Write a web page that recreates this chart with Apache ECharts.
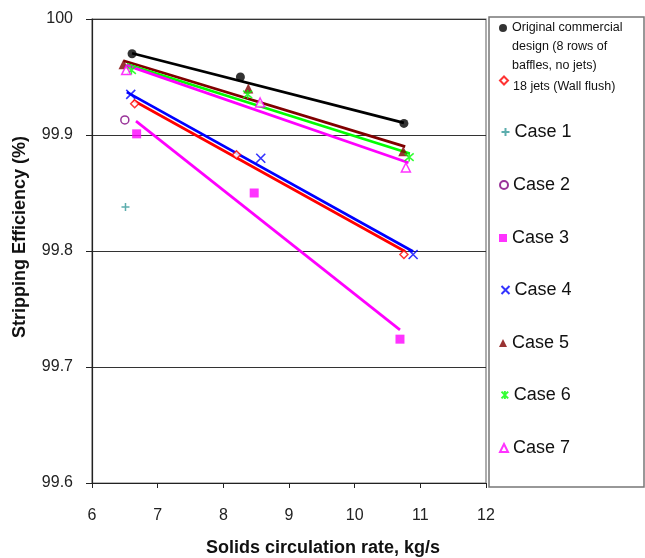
<!DOCTYPE html>
<html>
<head>
<meta charset="utf-8">
<script src="https://cdn.jsdelivr.net/npm/echarts@6/dist/echarts.min.js"></script>
<style>html,body{margin:0;padding:0;background:#fff}#c{width:645px;height:558px}</style>
</head>
<body>
<div id="c"></div>
<script>
// ---- data ----
const xTicks = [6, 7, 8, 9, 10, 11, 12];
const yTicks = [99.6, 99.7, 99.8, 99.9, 100];
const seriesNames = [
  'Original commercial\ndesign (8 rows of\nbaffles, no jets)',
  '18 jets (Wall flush)',
  'Case 1', 'Case 2', 'Case 3', 'Case 4', 'Case 5', 'Case 6', 'Case 7'
];
const original = [[6.61, 99.970], [8.26, 99.950], [10.75, 99.910]];
const jets18   = [[6.65, 99.927], [8.20, 99.883], [10.75, 99.797]];
const case1    = [[6.51, 99.838]];
const case2    = [[6.50, 99.913]];
const case3    = [[6.68, 99.901], [8.47, 99.850], [10.69, 99.724]];
const case4    = [[6.59, 99.935], [8.57, 99.880], [10.89, 99.797]];
const case5    = [[6.48, 99.961], [8.38, 99.940], [10.74, 99.886]];
const case6    = [[6.60, 99.956], [8.37, 99.935], [10.83, 99.881]];
const case7    = [[6.52, 99.956], [8.56, 99.928], [10.78, 99.872]];
// linear trend lines (end points)
const fitOriginal = [[6.61, 99.9705], [10.75, 99.9105]];
const fitJets     = [[6.63, 99.9297], [10.77, 99.7996]];
const fitCase3    = [[6.67, 99.912], [10.69, 99.732]];
const fitCase4    = [[6.53, 99.937], [10.89, 99.7996]];
const fitCase5    = [[6.48, 99.964], [10.77, 99.890]];
const fitCase6    = [[6.53, 99.961], [10.84, 99.884]];
const fitCase7    = [[6.53, 99.960], [10.82, 99.876]];

const FONT = '"Liberation Sans", Arial, sans-serif';
const PLUS = 'path://M0,5L10,5M5,0L5,10';
const CROSS = 'path://M0,0L10,10M10,0L0,10';
const STAR = 'path://M0,0L10,10M10,0L0,10M5,-1L5,11';

function fit(data, color) {
  return { type: 'line', data: data, showSymbol: false, symbol: 'none', silent: true,
    lineStyle: { color: color, width: 2.7 }, z: 2, animation: false };
}
function pts(name, data, symbol, size, style) {
  return { type: 'scatter', name: name, data: data, symbol: symbol, symbolSize: size,
    itemStyle: style, z: 5, animation: false };
}

const series = [
  fit(fitOriginal, '#000000'),
  fit(fitJets, '#ff0000'),
  fit(fitCase3, '#ff00ff'),
  fit(fitCase4, '#0000ff'),
  fit(fitCase5, '#800000'),
  fit(fitCase6, '#00ff00'),
  fit(fitCase7, '#ff00ff'),
  pts(seriesNames[0], original, 'circle', 9, { color: '#000000' }),
  pts(seriesNames[1], jets18, 'diamond', 8, { color: '#ffffff', borderColor: '#ff0000', borderWidth: 1.5 }),
  pts(seriesNames[2], case1, PLUS, 8, { color: 'none', borderColor: '#339999', borderWidth: 1.5 }),
  pts(seriesNames[3], case2, 'circle', 8, { color: '#ffffff', borderColor: '#800080', borderWidth: 1.5 }),
  pts(seriesNames[4], case3, 'rect', 9, { color: '#ff00ff' }),
  pts(seriesNames[5], case4, CROSS, 9, { color: 'none', borderColor: '#0000ff', borderWidth: 1.6 }),
  pts(seriesNames[6], case5, 'triangle', 10, { color: '#800000' }),
  pts(seriesNames[7], case6, STAR, 9, { color: 'none', borderColor: '#00ff00', borderWidth: 1.6 }),
  pts(seriesNames[8], case7, 'triangle', 9, { color: '#ffffff', borderColor: '#ff00ff', borderWidth: 1.5 })
];

const legendIconY = [28, 80, 132, 185, 238, 290, 343, 395, 448];
const legends = seriesNames.map(function (n, i) {
  let ts, top, fmt = null;
  if (i === 0) {
    ts = { fontSize: 12.5, lineHeight: 19 };
    fmt = function (name) { return '\n\n' + name; };
    top = legendIconY[i] - 47.5;
  } else if (i === 1) {
    ts = { fontSize: 12.5, lineHeight: 12 };
    fmt = function (name) { return '\n' + name; };
    top = legendIconY[i] - 12;
  } else {
    ts = { fontSize: 18, lineHeight: 20 };
    top = legendIconY[i] - 10;
  }
  ts.fontFamily = FONT; ts.color = '#111';
  const lg = { data: [n], left: 499, top: top, padding: 0, itemWidth: 8, itemHeight: 8,
    itemGap: 0, textStyle: ts, selectedMode: true };
  if (fmt) lg.formatter = fmt;
  return lg;
});

const chart = echarts.init(document.getElementById('c'), null, { renderer: 'canvas' });
chart.setOption({
  animation: false,
  backgroundColor: '#ffffff',
  grid: { left: 92, right: 159, top: 19, bottom: 75, show: true, borderColor: '#777', borderWidth: 1.2, backgroundColor: 'transparent' },
  xAxis: {
    type: 'value', min: xTicks[0], max: xTicks[xTicks.length - 1], interval: 1,
    axisLine: { lineStyle: { color: '#222', width: 1.2 } },
    axisTick: { show: true, length: 5, lineStyle: { color: '#222' } },
    axisLabel: { fontSize: 16, color: '#222', fontFamily: FONT, margin: 25 },
    splitLine: { show: false }
  },
  yAxis: {
    type: 'value', min: yTicks[0], max: yTicks[yTicks.length - 1], interval: 0.1,
    axisLine: { show: true, lineStyle: { color: '#222', width: 1.2 } },
    axisTick: { show: true, length: 6, lineStyle: { color: '#222' } },
    axisLabel: { fontSize: 16, color: '#222', fontFamily: FONT, margin: 19,
      formatter: function (v) { return (Math.round(v * 10) / 10).toString(); } },
    splitLine: { show: true, lineStyle: { color: '#333', width: 1.2 } }
  },
  legend: legends,
  graphic: [
    { type: 'rect', shape: { x: 489, y: 17, width: 155, height: 470 },
      style: { fill: 'none', stroke: '#777', lineWidth: 1.5 }, z: -1, silent: true },
    { type: 'text', x: 323, y: 548, style: { text: 'Solids circulation rate, kg/s', fontSize: 18, fontWeight: 'bold',
      fontFamily: FONT, fill: '#111', align: 'center', verticalAlign: 'middle' } },
    { type: 'text', x: 20, y: 237, rotation: Math.PI / 2, style: { text: 'Stripping Efficiency (%)', fontSize: 18, fontWeight: 'bold',
      fontFamily: FONT, fill: '#111', align: 'center', verticalAlign: 'middle' } }
  ],
  series: series
});
</script>
</body>
</html>
